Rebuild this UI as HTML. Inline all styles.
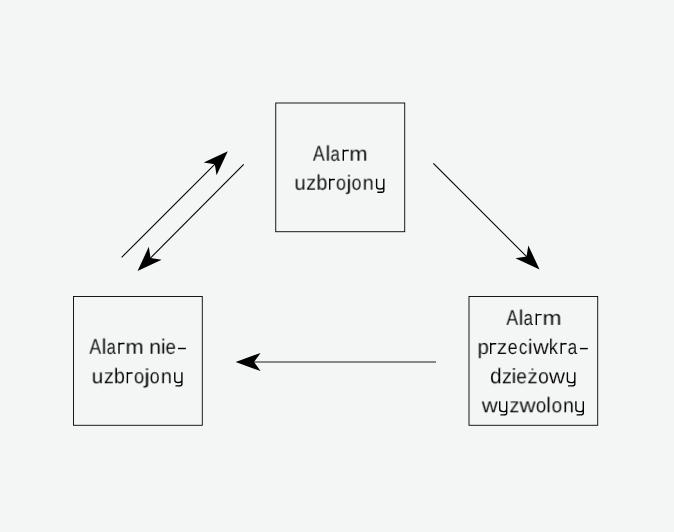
<!DOCTYPE html>
<html><head><meta charset="utf-8"><style>
html,body{margin:0;padding:0;background:#f4f6f5;}
svg{display:block;}
.bx{fill:none;stroke:#000;stroke-width:0.9;}
.ln{stroke:#000;}
.hd{fill:#000;stroke:none;}
.ds{fill:#000;}
.yp{fill:none;stroke:#000;stroke-width:1.4px;}
text{will-change:transform;text-rendering:geometricPrecision;font-family:"Liberation Sans",sans-serif;font-size:21.5px;fill:#000;stroke:#f4f6f5;stroke-width:0.1px;}
</style></head><body>
<svg width="674" height="532" viewBox="0 0 674 532">
<rect x="0" y="0" width="674" height="532" fill="#f4f6f5"/>
<rect class="bx" x="275.75" y="103.0" width="128.97" height="128.72"/>
<rect class="bx" x="73.5" y="296.5" width="128.78" height="128.78"/>
<rect class="bx" x="469.0" y="296.5" width="128.72" height="128.78"/>
<line x1="121.65" y1="257.35" x2="216.20" y2="162.80" stroke-width="1.1" class="ln"/>
<polygon points="227.80,151.20 216.56,175.31 214.79,164.21 203.69,162.44" class="hd"/>
<line x1="243.7" y1="164.3" x2="149.15" y2="259.35" stroke-width="1.1" class="ln"/>
<polygon points="137.55,270.95 148.79,246.84 150.56,257.94 161.66,259.71" class="hd"/>
<line x1="433.35" y1="163.35" x2="527.95" y2="257.95" stroke-width="1.1" class="ln"/>
<polygon points="539.55,269.55 515.44,258.31 526.54,256.54 528.31,245.44" class="hd"/>
<line x1="436.0" y1="362.0" x2="252.00" y2="362.00" stroke-width="0.9" class="ln"/>
<polygon points="235.60,362.00 260.60,352.90 254.00,362.00 260.60,371.10" class="hd"/>
<text transform="translate(313.07 160.7) rotate(0.01) scale(0.814 1.000)">A</text>
<text transform="translate(325.51 160.7) rotate(0.01) scale(1.000 1.000)">l</text>
<text transform="translate(330.49 160.7) rotate(0.01) scale(0.779 0.950)">a</text>
<path d="M343.30,160.70 V149.40 M343.30,152.10 C343.60,150.80 344.80,150.45 346.20,150.45 H348.80" class="yp"/>
<text transform="translate(349.34 160.7) rotate(0.01) scale(1.022 0.950)">m</text>
<text transform="translate(294.37 189.7) rotate(0.01) scale(0.953 0.950)">u</text>
<text transform="translate(306.09 189.7) rotate(0.01) scale(0.931 0.950)">z</text>
<text transform="translate(316.32 189.7) rotate(0.01) scale(0.920 1.000)">b</text>
<path d="M329.70,189.70 V178.40 M329.70,181.10 C330.00,179.80 331.20,179.45 332.60,179.45 H334.90" class="yp"/>
<text transform="translate(336.14 189.7) rotate(0.01) scale(0.837 0.950)">o</text>
<text transform="translate(346.37 189.7) rotate(0.01) scale(1.090 0.950)">j</text>
<text transform="translate(351.65 189.7) rotate(0.01) scale(0.827 0.950)">o</text>
<text transform="translate(362.57 189.7) rotate(0.01) scale(0.931 0.950)">n</text>
<path d="M376.60,178.70 V186.50 C376.60,188.40 377.90,189.00 380.20,189.00 C382.20,189.00 383.80,188.10 383.80,186.30 M383.80,178.70 V190.70 C383.80,192.20 382.50,192.30 380.70,192.30 H377.30" class="yp"/>
<text transform="translate(89.47 353.8) rotate(0.01) scale(0.814 1.000)">A</text>
<text transform="translate(101.61 353.8) rotate(0.01) scale(1.000 1.000)">l</text>
<text transform="translate(106.60 353.8) rotate(0.01) scale(0.770 0.950)">a</text>
<path d="M119.00,353.80 V342.50 M119.00,345.20 C119.30,343.90 120.50,343.55 121.90,343.55 H124.60" class="yp"/>
<text transform="translate(125.44 353.8) rotate(0.01) scale(1.022 0.950)">m</text>
<text transform="translate(149.18 353.8) rotate(0.01) scale(0.996 0.950)">n</text>
<text transform="translate(160.87 353.8) rotate(0.01) scale(1.000 0.960)">i</text>
<text transform="translate(165.60 353.8) rotate(0.01) scale(0.872 0.950)">e</text>
<text transform="translate(91.65 383.25) rotate(0.01) scale(0.964 0.950)">u</text>
<text transform="translate(103.79 383.25) rotate(0.01) scale(0.931 0.950)">z</text>
<text transform="translate(113.82 383.25) rotate(0.01) scale(0.920 1.000)">b</text>
<path d="M127.40,383.25 V371.95 M127.40,374.65 C127.70,373.35 128.90,373.00 130.30,373.00 H132.60" class="yp"/>
<text transform="translate(134.13 383.25) rotate(0.01) scale(0.857 0.950)">o</text>
<text transform="translate(144.05 383.25) rotate(0.01) scale(1.246 0.950)">j</text>
<text transform="translate(149.74 383.25) rotate(0.01) scale(0.837 0.950)">o</text>
<text transform="translate(160.77 383.25) rotate(0.01) scale(0.931 0.950)">n</text>
<path d="M174.80,372.25 V380.05 C174.80,381.95 176.10,382.55 178.35,382.55 C180.30,382.55 181.90,381.65 181.90,379.85 M181.90,372.25 V384.25 C181.90,385.75 180.60,385.85 178.80,385.85 H175.50" class="yp"/>
<text transform="translate(506.47 324.9) rotate(0.01) scale(0.814 1.000)">A</text>
<text transform="translate(518.61 324.9) rotate(0.01) scale(1.000 1.000)">l</text>
<text transform="translate(523.59 324.9) rotate(0.01) scale(0.779 0.950)">a</text>
<path d="M536.30,324.90 V313.60 M536.30,316.30 C536.60,315.00 537.80,314.65 539.20,314.65 H541.70" class="yp"/>
<text transform="translate(542.58 324.9) rotate(0.01) scale(1.062 0.950)">m</text>
<text transform="translate(477.48 353.95) rotate(0.01) scale(0.952 0.950)">p</text>
<path d="M490.70,353.95 V342.65 M490.70,345.35 C491.00,344.05 492.20,343.70 493.60,343.70 H496.30" class="yp"/>
<text transform="translate(496.77 353.95) rotate(0.01) scale(0.954 0.950)">z</text>
<text transform="translate(507.74 353.95) rotate(0.01) scale(0.833 0.950)">e</text>
<text transform="translate(518.99 353.95) rotate(0.01) scale(0.777 0.950)">c</text>
<text transform="translate(527.82 353.95) rotate(0.01) scale(1.000 0.960)">i</text>
<text transform="translate(533.13 353.95) rotate(0.01) scale(1.012 0.950)">w</text>
<text transform="translate(548.97 353.95) rotate(0.01) scale(0.846 1.000)">k</text>
<path d="M561.20,353.95 V342.65 M561.20,345.35 C561.50,344.05 562.70,343.70 564.10,343.70 H566.70" class="yp"/>
<text transform="translate(567.67 353.95) rotate(0.01) scale(0.797 0.950)">a</text>
<text transform="translate(490.02 383.3) rotate(0.01) scale(0.972 1.000)">d</text>
<text transform="translate(501.89 383.3) rotate(0.01) scale(0.931 0.950)">z</text>
<text transform="translate(511.57 383.3) rotate(0.01) scale(1.000 0.960)">i</text>
<text transform="translate(516.19 383.3) rotate(0.01) scale(0.882 0.950)">e</text>
<text transform="translate(527.37 383.3) rotate(0.01) scale(0.954 0.950)">ż</text>
<text transform="translate(537.98 383.3) rotate(0.01) scale(0.906 0.950)">o</text>
<text transform="translate(549.03 383.3) rotate(0.01) scale(1.031 0.950)">w</text>
<path d="M567.40,372.30 V380.10 C567.40,382.00 568.70,382.60 571.10,382.60 C573.20,382.60 574.80,381.70 574.80,379.90 M574.80,372.30 V384.30 C574.80,385.80 573.50,385.90 571.70,385.90 H568.10" class="yp"/>
<text transform="translate(481.83 412.3) rotate(0.01) scale(1.025 0.950)">w</text>
<path d="M499.70,401.30 V409.10 C499.70,411.00 501.00,411.60 503.20,411.60 C505.10,411.60 506.70,410.70 506.70,408.90 M506.70,401.30 V413.30 C506.70,414.80 505.40,414.90 503.60,414.90 H500.40" class="yp"/>
<text transform="translate(509.40 412.3) rotate(0.01) scale(0.920 0.950)">z</text>
<text transform="translate(519.63 412.3) rotate(0.01) scale(1.031 0.950)">w</text>
<text transform="translate(536.02 412.3) rotate(0.01) scale(0.867 0.950)">o</text>
<text transform="translate(546.16 412.3) rotate(0.01) scale(1.000 1.000)">l</text>
<text transform="translate(551.51 412.3) rotate(0.01) scale(0.877 0.950)">o</text>
<text transform="translate(563.00 412.3) rotate(0.01) scale(0.909 0.950)">n</text>
<path d="M575.90,401.30 V409.10 C575.90,411.00 577.20,411.60 579.60,411.60 C581.70,411.60 583.30,410.70 583.30,408.90 M583.30,401.30 V413.30 C583.30,414.80 582.00,414.90 580.20,414.90 H576.60" class="yp"/>
<rect x="178.00" y="347.80" width="7.90" height="1.40" class="ds"/>
<rect x="579.90" y="347.90" width="7.90" height="1.40" class="ds"/>
</svg>
</body></html>
